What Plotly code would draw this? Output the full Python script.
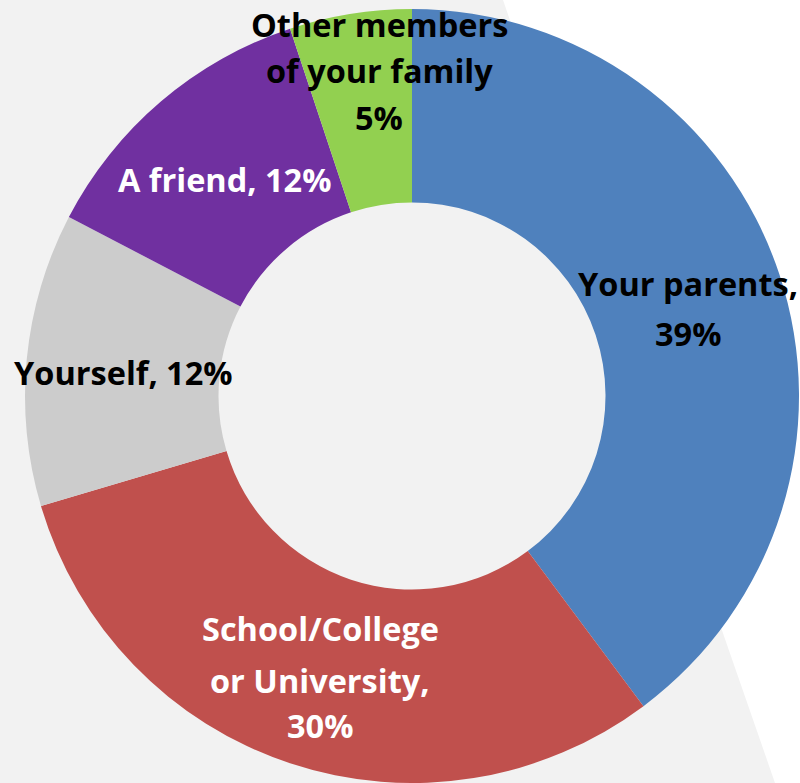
import plotly.graph_objects as go

# ---- data ----
categories = ["Your parents", "School/College or University", "Yourself", "A friend",
              "Other members of your family"]
values = [39, 30, 12, 12, 5]
slice_colors = ["#4f81bd", "#c0504d", "#cccccc", "#7030a0", "#92d050"]
label_lines = [
    ["Your parents,", "{v}%"],
    ["School/College", "or University,", "{v}%"],
    ["Yourself, {v}%"],
    ["A friend, {v}%"],
    ["Other members", "of your family", "{v}%"],
]
label_colors = ["#000000", "#ffffff", "#000000", "#ffffff", "#000000"]

# ---- layout helpers (pixel positions of label line centres) ----
W, H = 800, 783
label_pos = [
    (688, [283, 333]),
    (320, [628, 680, 725]),
    (123, [373]),
    (224, [179]),
    (379, [25, 71, 118]),
]

fig = go.Figure()
fig.add_trace(go.Pie(
    labels=categories,
    values=values,
    hole=0.5,
    sort=False,
    direction="clockwise",
    rotation=0,
    marker=dict(colors=slice_colors, line=dict(width=0)),
    textinfo="none",
    hoverinfo="label+percent",
    showlegend=False,
    domain=dict(x=[25 / W, 799 / W], y=[0, 774 / H]),
))

annotations = []
for lines, col, (cx, ys), v in zip(label_lines, label_colors, label_pos, values):
    for line, yy in zip(lines, ys):
        annotations.append(dict(
            x=cx / W, y=1 - yy / H, xref="paper", yref="paper",
            text="<b>" + line.format(v=v) + "</b>", showarrow=False,
            xanchor="center", yanchor="middle",
            font=dict(family="Open Sans", size=32.5, color=col),
        ))

fig.update_layout(
    width=W, height=H,
    margin=dict(l=0, r=0, t=0, b=0),
    paper_bgcolor="#ffffff",
    plot_bgcolor="#ffffff",
    annotations=annotations,
    shapes=[dict(
        type="path", xref="paper", yref="paper", layer="below",
        path="M 0 0 L 0 1 L {a} 1 L {b} 0 Z".format(a=503 / W, b=775 / W),
        fillcolor="#f2f2f2", line=dict(width=0),
    )],
)

fig.write_html(
    "out.html",
    config={"displayModeBar": False},
    post_script="document.body.style.margin='0';document.body.style.overflow='hidden';",
)
